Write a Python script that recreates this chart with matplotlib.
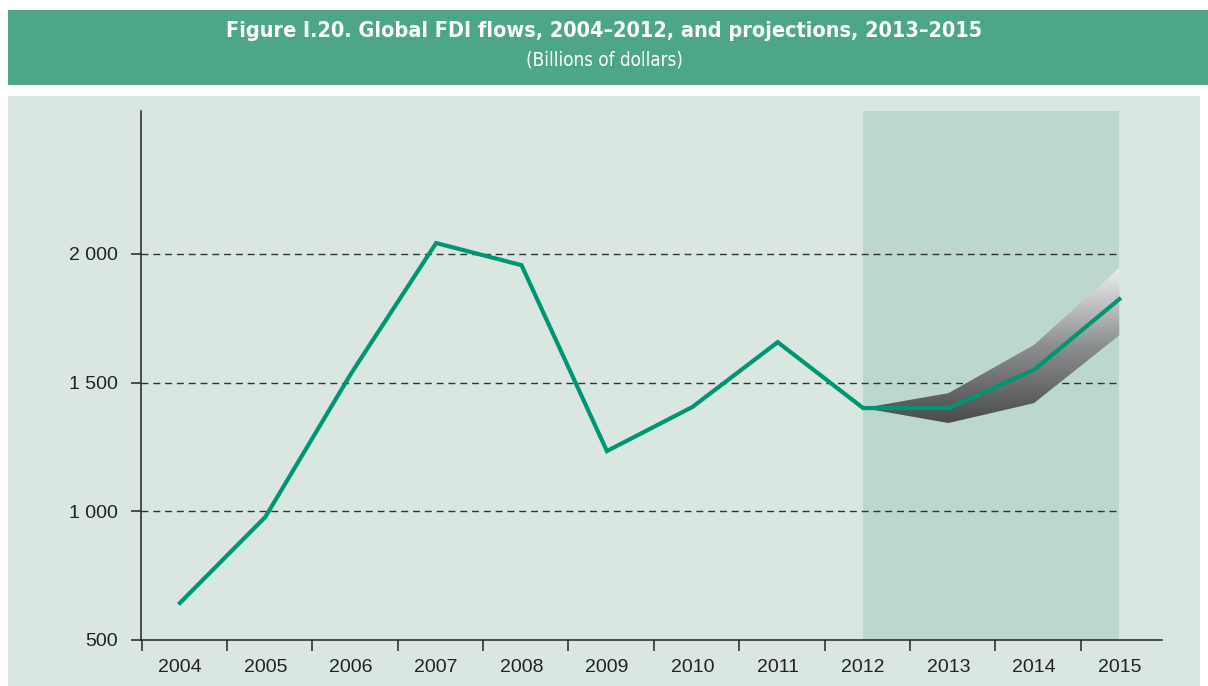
import matplotlib
matplotlib.use("Agg")
import matplotlib.pyplot as plt
import numpy as np
from matplotlib.patches import Rectangle, Polygon
from matplotlib.colors import LinearSegmentedColormap
from matplotlib import font_manager as fm

# ---- data ----
years = ["2004", "2005", "2006", "2007", "2008", "2009", "2010", "2011",
         "2012", "2013", "2014", "2015"]
fdi = [644, 978, 1533, 2042, 1956, 1234, 1405, 1657, 1401, 1401, 1549, 1824]
proj_years = ["2012", "2013", "2014", "2015"]
proj_upper = [1401, 1459, 1646, 1945]
proj_lower = [1401, 1343, 1420, 1684]
yticks = [500, 1000, 1500, 2000]
ytick_labels = ["500", "1 000", "1 500", "2 000"]
title = "Figure I.20. Global FDI flows, 2004\u20132012, and projections, 2013\u20132015"
subtitle = "(Billions of dollars)"

W, H = 1208, 686
fig = plt.figure(figsize=(W / 100, H / 100), dpi=100)
fig.patch.set_facecolor("white")

names = {f.name for f in fm.fontManager.ttflist}
cond_family = "Liberation Sans Narrow" if "Liberation Sans Narrow" in names else "DejaVu Sans"
label_family = "Liberation Sans" if "Liberation Sans" in names else "DejaVu Sans"

# panel background
fig.patches.append(Rectangle((8 / W, 0), (1200 - 8) / W, (686 - 96) / H,
                             transform=fig.transFigure, facecolor="#d9e7e0",
                             edgecolor="none", zorder=-10))
# header band
fig.patches.append(Rectangle((8 / W, 1 - 85 / H), 1 - 8 / W, 75 / H,
                             transform=fig.transFigure, facecolor="#4da68a",
                             edgecolor="none", zorder=-10))
fig.text(0.5, 1 - 31 / H, title, ha="center", va="center", color="white",
         fontsize=15.5, fontweight="bold", family=cond_family, stretch="condensed")
fig.text(0.5, 1 - 60 / H, subtitle, ha="center", va="center", color="white",
         fontsize=13.5, family=cond_family, stretch="condensed")

ax = fig.add_axes([141 / W, (H - 640) / H, (1162 - 141) / W, (640 - 111) / H])
ax.set_zorder(5)
ax.set_facecolor("none")
x = np.arange(len(years))

idx = {y: i for i, y in enumerate(years)}
px = np.array([idx[y] for y in proj_years], dtype=float)

# projection shading
ax.axvspan(px[0], px[-1], ymin=0, ymax=1, facecolor="#bcd7cb", edgecolor="none", zorder=0)

# grid lines
for yv in yticks[1:]:
    ax.plot([-0.456, px[-1]], [yv, yv], color="#333333", lw=1.0,
            dashes=(5, 3.5), zorder=1)

# gradient band
verts = list(zip(px, proj_upper)) + list(zip(px[::-1], proj_lower[::-1]))
poly = Polygon(verts, closed=True, facecolor="none", edgecolor="none")
ax.add_patch(poly)
cmap = LinearSegmentedColormap.from_list("g", ["#4b4b4d", "#8c8f90", "#eeeeee"])
grad = np.linspace(0, 1, 256).reshape(-1, 1)
im = ax.imshow(grad, cmap=cmap, origin="lower", aspect="auto",
               extent=(px[0], px[-1], min(proj_lower), max(proj_upper)),
               zorder=2, interpolation="bilinear")
im.set_clip_path(poly)
ax.set_xlim(-0.456, 11.5)
ax.set_ylim(500, 2555)

# main line
ax.plot(x, fdi, color="#009673", lw=3.0, zorder=3, solid_joinstyle="miter")

# axes styling
for s in ["top", "right"]:
    ax.spines[s].set_visible(False)
for s in ["left", "bottom"]:
    ax.spines[s].set_color("#222222")
    ax.spines[s].set_linewidth(1.1)

ax.set_yticks(yticks)
ax.set_yticklabels(ytick_labels)
ax.set_xticks(x)
ax.set_xticklabels(years)
ax.set_xticks(np.arange(-0.45, 11, 1.0), minor=True)
ax.tick_params(axis="x", which="major", length=0, pad=14, labelsize=14,
               labelcolor="#222222")
ax.tick_params(axis="x", which="minor", length=8, width=1.1, color="#222222",
               direction="out")
ax.tick_params(axis="y", length=7, width=1.1, color="#222222", pad=10,
               labelsize=14, labelcolor="#222222")
for lab in ax.get_xticklabels() + ax.get_yticklabels():
    lab.set_family(label_family)

fig.savefig("out.png", dpi=100)
